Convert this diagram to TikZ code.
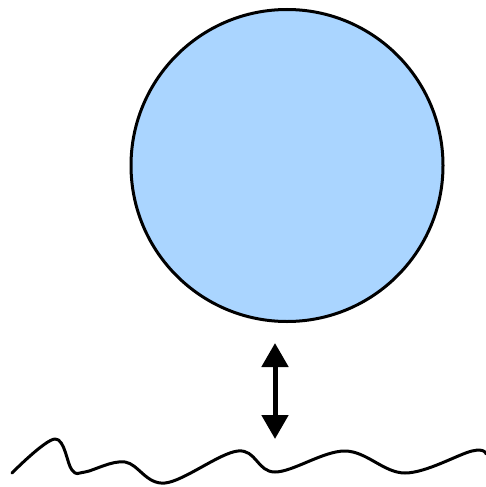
\documentclass[tikz,border=0pt]{standalone}
\usetikzlibrary{arrows.meta}
\definecolor{ballblue}{HTML}{AAD5FF}
\tikzset{
  ball/.style={circle, draw=black, line width=3pt, fill=ballblue, minimum size=312pt, inner sep=0pt},
  gaparrow/.style={line width=5pt, {Triangle[width=26pt,length=24pt]}-{Triangle[width=26pt,length=24pt]}},
  wave/.style={line width=3pt, line cap=round, line join=round}
}
\begin{document}
\begin{tikzpicture}[x=1pt,y=-1pt]
\useasboundingbox (0,0) rectangle (485,487);
\node[ball] (sphere) at (287,165.5) {};
\coordinate (top) at (275,343);
\coordinate (bot) at (275,439);
\draw[gaparrow] (bot) -- (top);
\draw[wave] plot[smooth, tension=0.6] coordinates {(12,473) (55,439) (72,470) (85,472) (125,462) (165,483) (238,451) (275,472) (345,451) (405,473) (472,451) (486,454)};
\end{tikzpicture}
\end{document}
